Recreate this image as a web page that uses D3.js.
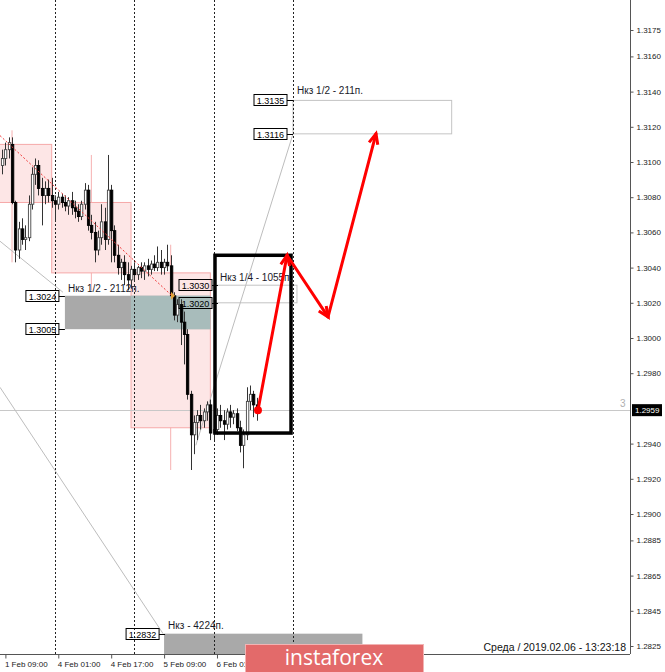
<!DOCTYPE html>
<html><head><meta charset="utf-8">
<script src="https://cdn.jsdelivr.net/npm/d3@7"></script>
<style>
body{margin:0;background:#fff;}
svg{display:block;font-family:"Liberation Sans",Arial,sans-serif;}
</style>
</head><body>
<svg id="c" width="665" height="672"></svg>
<script>
// ---------------- data ----------------
const tickIdx    = [1, 17, 33, 49, 65];
const tickLabels = ["1 Feb 09:00","4 Feb 01:00","4 Feb 17:00","5 Feb 09:00","6 Feb 01:00"];
const priceTicks = [1.3175,1.3160,1.3140,1.3120,1.3100,1.3080,1.3060,1.3040,1.3020,1.3000,
                    1.2980,1.2940,1.2920,1.2900,1.2885,1.2865,1.2845,1.2825];
const separators = [16, 40, 64, 88];

const open  = [1.3098,1.3102,1.3107,1.3110,1.3077,1.3050,1.3062,1.3056,1.3057,1.3076,1.3093,1.3098,1.3085,1.3081,1.3085,1.3081,
               1.3078,1.3076,1.3080,1.3077,1.3075,1.3078,1.3074,1.3072,1.3069,1.3076,1.3084,1.3064,1.3060,1.3050,1.3057,1.3066,1.3056,1.3084,1.3061,1.3047,1.3040,1.3043,1.3036,1.3033,
               1.3039,1.3036,1.3040,1.3038,1.3041,1.3039,1.3042,1.3040,1.3043,1.3040,1.3043,1.3041,1.3024,1.3013,1.3019,1.3009,1.3002,1.2968,1.2945,1.2952,1.2956,1.2953,1.2958,1.2962,
               1.2946,1.2948,1.2956,1.2953,1.2951,1.2958,1.2955,1.2957,1.2949,1.2939,1.2945,1.2964,1.2968,1.2962];
const high  = [1.3107,1.3111,1.3114,1.3114,1.3078,1.3066,1.3068,1.3064,1.3081,1.3097,1.3102,1.3101,1.3091,1.3089,1.3090,1.3091,
               1.3081,1.3083,1.3082,1.3081,1.3080,1.3083,1.3078,1.3076,1.3078,1.3088,1.3087,1.3070,1.3066,1.3061,1.3076,1.3074,1.3104,1.3087,1.3064,1.3053,1.3045,1.3047,1.3043,1.3041,
               1.3043,1.3041,1.3043,1.3043,1.3045,1.3044,1.3047,1.3052,1.3050,1.3045,1.3053,1.3047,1.3026,1.3022,1.3022,1.3015,1.3005,1.2970,1.2956,1.2959,1.2962,1.2960,1.2964,1.2965,
               1.2951,1.2960,1.2962,1.2959,1.2960,1.2962,1.2959,1.2960,1.2953,1.2948,1.2972,1.2973,1.2970,1.2966];
const low   = [1.3093,1.3098,1.3102,1.3076,1.3043,1.3045,1.3053,1.3050,1.3055,1.3073,1.3087,1.3081,1.3064,1.3076,1.3077,1.3074,
               1.3066,1.3073,1.3074,1.3072,1.3070,1.3070,1.3068,1.3066,1.3067,1.3073,1.3061,1.3056,1.3043,1.3047,1.3053,1.3050,1.3053,1.3043,1.3043,1.3036,1.3033,1.3030,1.3027,1.3028,
               1.3032,1.3033,1.3034,1.3033,1.3035,1.3036,1.3038,1.3038,1.3036,1.3036,1.3038,1.3023,1.3010,1.3009,1.2996,1.2985,1.2965,1.2925,1.2934,1.2942,1.2948,1.2949,1.2953,1.2942,
               1.2942,1.2945,1.2949,1.2942,1.2948,1.2949,1.2951,1.2947,1.2935,1.2926,1.2942,1.2959,1.2955,1.2953];
const close = [1.3102,1.3107,1.3111,1.3077,1.3050,1.3062,1.3056,1.3057,1.3076,1.3093,1.3098,1.3085,1.3081,1.3085,1.3081,1.3078,
               1.3076,1.3080,1.3077,1.3075,1.3078,1.3074,1.3072,1.3069,1.3076,1.3084,1.3064,1.3060,1.3050,1.3057,1.3066,1.3056,1.3084,1.3061,1.3047,1.3040,1.3043,1.3036,1.3033,1.3039,
               1.3036,1.3040,1.3038,1.3041,1.3039,1.3042,1.3040,1.3043,1.3040,1.3043,1.3041,1.3024,1.3013,1.3019,1.3009,1.3002,1.2968,1.2945,1.2952,1.2956,1.2953,1.2958,1.2962,1.2946,
               1.2948,1.2956,1.2953,1.2951,1.2958,1.2955,1.2957,1.2949,1.2939,1.2945,1.2964,1.2968,1.2962,1.2959];

// higher-timeframe (daily) overlay
const dayStart = [-9, 15, 39];
const dayOpen  = [1.3110, 1.3077, 1.3037];
const dayClose = [1.3077, 1.3037, 1.2949];
const dayHigh  = [1.3118, 1.3104, 1.3053];
const dayLow   = [1.3043, 1.3027, 1.2925];

const lastPrice = 1.2959;

// zones: [fromIdx, toIdx, priceTop, priceBottom]
const zoneHalf   = [19, 63, 1.3024, 1.3005];
const zoneFull   = [49, 109, 1.2832, 1.2790];
const boxQuarter = [64, 89.2, 1.3030, 1.3020];
const boxTarget  = [88, 136, 1.3135, 1.3116];
const blackBox   = [64.4, 87.4, 1.3047, 1.2946];

// trend lines [idx1, price1, idx2, price2]
const redDotted = [-0.64, 1.3115, 51.4, 1.3024];
const grayLines = [[-0.64, 1.3055, 18.4, 1.3026],
                   [-0.64, 1.2972, 48.7, 1.2832],
                   [58.6, 1.2939, 88, 1.3116]];

// forecast path
const pathIdx   = [77.4, 86.2, 98.6, 113.1];
const pathPrice = [1.2959, 1.3047, 1.3012, 1.3116];

// ---------------- drawing ----------------
const svg = d3.select('#c');
const plotR = 630, plotB = 654;
const x = d3.scaleLinear().domain([0, 88]).range([2.1, 293]);
const y = d3.scaleLinear().domain([1.2825, 1.3175]).range([646, 30]);

svg.append('defs').append('clipPath').attr('id','clip')
  .append('rect').attr('x',0).attr('y',0).attr('width',plotR).attr('height',plotB);
const g = svg.append('g').attr('clip-path','url(#clip)');

// daily overlay
dayStart.forEach((s,i)=>{
  const xm = x(s+12);
  g.append('line').attr('x1',xm).attr('x2',xm).attr('y1',y(dayHigh[i])).attr('y2',y(dayLow[i]))
    .attr('stroke','#f6b0b0').attr('stroke-width',1);
  g.append('rect').attr('x',x(s)).attr('width',x(s+24)-x(s))
    .attr('y',y(Math.max(dayOpen[i],dayClose[i])))
    .attr('height',y(Math.min(dayOpen[i],dayClose[i]))-y(Math.max(dayOpen[i],dayClose[i])))
    .attr('fill','#fde6e6').attr('stroke','#f6a9a9').attr('stroke-width',1);
});

// gray zone (with tinted overlap)
g.append('rect').attr('x',x(zoneHalf[0])).attr('width',x(zoneHalf[1])-x(zoneHalf[0]))
  .attr('y',y(zoneHalf[2])).attr('height',y(zoneHalf[3])-y(zoneHalf[2])).attr('fill','#a9a9a9');
g.append('rect').attr('x',x(dayStart[2])).attr('width',x(zoneHalf[1])-x(dayStart[2]))
  .attr('y',y(zoneHalf[2])).attr('height',y(zoneHalf[3])-y(zoneHalf[2])).attr('fill','#a8bcbb');
g.append('rect').attr('x',x(zoneFull[0])).attr('width',x(zoneFull[1])-x(zoneFull[0]))
  .attr('y',y(zoneFull[2])).attr('height',y(zoneFull[3])-y(zoneFull[2])).attr('fill','#a9a9a9');

// outline boxes
[boxQuarter, boxTarget].forEach(b=>{
  g.append('rect').attr('x',x(b[0])).attr('width',x(b[1])-x(b[0]))
   .attr('y',y(b[2])).attr('height',y(b[3])-y(b[2]))
   .attr('fill','none').attr('stroke','#c4c4c4').attr('stroke-width',1);
});

// separators
separators.forEach(s=>{
  g.append('line').attr('x1',Math.round(x(s))+0.5).attr('x2',Math.round(x(s))+0.5)
   .attr('y1',0).attr('y2',plotB).attr('stroke','#222').attr('stroke-width',1)
   .attr('stroke-dasharray','2,2');
});

// last price line
g.append('line').attr('x1',0).attr('x2',plotR).attr('y1',Math.round(y(lastPrice))+0.5).attr('y2',Math.round(y(lastPrice))+0.5)
  .attr('stroke','#c8c8c8').attr('stroke-width',1);

// gray trend lines
grayLines.forEach(l=>{
  g.append('line').attr('x1',x(l[0])).attr('y1',y(l[1])).attr('x2',x(l[2])).attr('y2',y(l[3]))
   .attr('stroke','#bdbdbd').attr('stroke-width',1);
});

// candles
const candles = g.append('g');
open.forEach((o,i)=>{
  const cx = Math.round(x(i));
  const c = close[i];
  candles.append('line').attr('x1',cx+0.5).attr('x2',cx+0.5)
    .attr('y1',y(high[i])).attr('y2',y(low[i])).attr('stroke','#333').attr('stroke-width',1);
  const top = y(Math.max(o,c)), bot = y(Math.min(o,c));
  candles.append('rect').attr('x',cx-0.6).attr('width',2.4)
    .attr('y',top).attr('height',Math.max(1,bot-top))
    .attr('fill', c>=o ? '#fff' : '#000').attr('stroke', c>=o ? '#444' : '#000').attr('stroke-width',0.9);
});

// red dotted trend
g.append('line').attr('x1',x(redDotted[0])).attr('y1',y(redDotted[1]))
  .attr('x2',x(redDotted[2])).attr('y2',y(redDotted[3]))
  .attr('stroke','#f03a3a').attr('stroke-width',1).attr('stroke-dasharray','2,2');
// orange marker
{
  const mx = x(redDotted[2]), my = y(redDotted[3]);
  g.append('path').attr('d',`M${mx-1},${my-4} L${mx+3},${my} L${mx-1},${my+4} Z`).attr('fill','#e2a23a');
}

// black box
g.append('rect').attr('x',x(blackBox[0])).attr('width',x(blackBox[1])-x(blackBox[0]))
  .attr('y',y(blackBox[2])).attr('height',y(blackBox[3])-y(blackBox[2]))
  .attr('fill','none').attr('stroke','#000').attr('stroke-width',3.5);

// price label boxes
function priceTag(price, rightX){
  const yy = Math.round(y(price));
  g.append('line').attr('x1',rightX).attr('x2',rightX+6).attr('y1',yy+0.5).attr('y2',yy+0.5).attr('stroke','#000');
  g.append('rect').attr('x',rightX-33).attr('y',yy-5.5).attr('width',33).attr('height',11)
    .attr('fill','none').attr('stroke','#000').attr('stroke-width',1);
  g.append('text').attr('x',rightX-16.5).attr('y',yy+3.5).attr('text-anchor','middle')
    .attr('font-size','9px').attr('fill','#000').text(price.toFixed(4));
}
priceTag(boxTarget[2], x(boxTarget[0])-6);
priceTag(boxTarget[3], x(boxTarget[0])-6);
priceTag(boxQuarter[2], 212);
priceTag(boxQuarter[3], 212);
priceTag(zoneHalf[2], x(zoneHalf[0])-6);
priceTag(zoneHalf[3], x(zoneHalf[0])-6);
priceTag(zoneFull[2], x(zoneFull[0])-5);

// annotation texts
const ann = [["Нкз 1/2 - 211п.", x(boxTarget[0])+4, y(boxTarget[2])-6],
             ["Нкз 1/4 - 1055п.", 220, y(boxQuarter[2])-4],
             ["Нкз 1/2 - 2112п.", x(zoneHalf[0])+3, y(zoneHalf[2])-4],
             ["Нкз - 4224п.", x(zoneFull[0])+4, y(zoneFull[2])-5]];
ann.forEach(a=>{
  g.append('text').attr('x',a[1]).attr('y',a[2]).attr('font-size','10px').attr('fill','#1a1a2a').text(a[0]);
});

// forecast arrows
const pts = pathIdx.map((d,i)=>[x(d), y(pathPrice[i])]);
for(let i=0;i<pts.length-1;i++){
  const p=pts[i], q=pts[i+1];
  g.append('line').attr('x1',p[0]).attr('y1',p[1]).attr('x2',q[0]).attr('y2',q[1])
    .attr('stroke','#ff0000').attr('stroke-width',3).attr('stroke-linecap','round');
  const a = Math.atan2(q[1]-p[1], q[0]-p[0]), L=11, s=0.42;
  const h1=[q[0]-L*Math.cos(a-s), q[1]-L*Math.sin(a-s)];
  const h2=[q[0]-L*Math.cos(a+s), q[1]-L*Math.sin(a+s)];
  g.append('path').attr('d',`M${h1[0]},${h1[1]} L${q[0]},${q[1]} L${h2[0]},${h2[1]}`)
    .attr('fill','none').attr('stroke','#ff0000').attr('stroke-width',3).attr('stroke-linejoin','miter');
}
g.append('circle').attr('cx',pts[0][0]).attr('cy',pts[0][1]).attr('r',4).attr('fill','#ff0000');

// "3" marker
g.append('text').attr('x',620).attr('y',y(lastPrice)-3).attr('font-size','10px').attr('fill','#b0b0b0').text('3');

// axes
const yAxis = d3.axisRight(y).tickValues(priceTicks).tickFormat(d3.format('.4f')).tickSize(3).tickPadding(3);
const ya = svg.append('g').attr('transform',`translate(${plotR+0.5},0)`).call(yAxis);
ya.select('.domain').attr('d',`M0,0V${plotB}`).attr('stroke','#555');
ya.selectAll('text').attr('font-size','8px').attr('fill','#222').attr('font-family','"Liberation Sans",Arial,sans-serif');
ya.selectAll('line').attr('stroke','#555');

const xAxis = d3.axisBottom(x).tickValues(tickIdx).tickFormat((d,i)=>tickLabels[i]).tickSize(4).tickPadding(3);
const xa = svg.append('g').attr('transform',`translate(0,${plotB+0.5})`).call(xAxis);
xa.select('.domain').attr('d',`M0,0H${plotR}`).attr('stroke','#555');
xa.selectAll('text').attr('font-size','8px').attr('fill','#222').attr('text-anchor','start')
  .attr('dx','-1').attr('font-family','"Liberation Sans",Arial,sans-serif');
xa.selectAll('line').attr('stroke','#555');

// last price tag
{
  const yy = y(lastPrice);
  svg.append('rect').attr('x',plotR+2).attr('y',yy-6).attr('width',30).attr('height',12).attr('fill','#000');
  svg.append('text').attr('x',plotR+5).attr('y',yy+3).attr('font-size','8px').attr('fill','#fff').text(lastPrice.toFixed(4));
}

// timestamp
svg.append('text').attr('x',626).attr('y',651).attr('text-anchor','end').attr('font-size','10.5px').attr('fill','#111')
  .text('Среда  /  2019.02.06  -  13:23:18');

// watermark logo
svg.append('rect').attr('x',245.5).attr('y',644.5).attr('width',178).attr('height',28)
  .attr('fill','#e36a6a').attr('stroke','#f2b3b3').attr('stroke-width',1);
svg.append('text').attr('x',334).attr('y',665).attr('text-anchor','middle').attr('font-size','21px')
  .attr('font-family','"Open Sans","Liberation Sans",sans-serif').attr('fill','#fff').text('instaforex');
</script>
</body></html>
